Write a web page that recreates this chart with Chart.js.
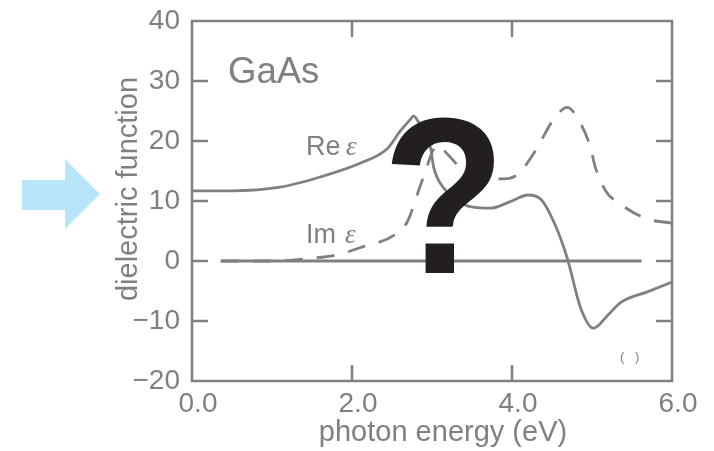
<!DOCTYPE html>
<html lang="en">
<head>
    <meta charset="UTF-8">
    <title>GaAs dielectric function</title>
    <script src="https://cdn.jsdelivr.net/npm/chart.js"></script>
    <style>
        html, body { margin: 0; padding: 0; background: #fff; }
        canvas { display: block; }
    </style>
</head>
<body>
    <canvas id="chart" width="714" height="451"></canvas>
    <script>
        // values
        const reEnergy = [0, 0.5, 1.1, 1.6, 2.1, 2.44, 2.6, 2.73, 2.77, 2.81, 2.98, 3.02, 3.15, 3.44, 3.73, 3.98, 4.2, 4.36, 4.54, 4.69, 4.86, 5.02, 5.2, 5.36, 5.7, 6];
        const reValues = [11.7, 11.7, 12.3, 14, 16.3, 18.7, 21.6, 23.6, 24.2, 23.6, 19, 15.7, 12.1, 9.2, 8.8, 9.9, 11, 10.3, 6, 0.5, -7.9, -11.2, -9, -6.9, -5.1, -3.5];
        const imEnergy = [0.36, 1, 1.44, 1.8, 2.1, 2.56, 2.69, 2.88, 3.07, 3.2, 3.36, 3.6, 3.9, 4.1, 4.2, 4.32, 4.52, 4.69, 4.81, 4.98, 5.04, 5.18, 5.32, 5.67, 6];
        const imValues = [0, 0, 0.4, 1, 2.2, 4.6, 6.5, 13.5, 19.3, 17.7, 15.5, 14, 13.7, 14.7, 16.5, 19, 23.6, 25.6, 24, 19, 15.7, 11.5, 9.8, 7.1, 6.3];
        const zeroEnergy = [0.36, 5.62];
        const zeroValues = [0, 0];
        const xTickLabels = ['0.0', '2.0', '4.0', '6.0'];
        const yTickLabels = ['\u221220', '\u221210', '0', '10', '20', '30', '40'];

        const grey = '#808080';
        const sans = '"Liberation Sans", Arial, sans-serif';

        function toPoints(xs, ys) {
            return xs.map((x, i) => ({ x: x, y: ys[i] }));
        }

        function lineSet(label, xs, ys, extra) {
            return Object.assign({
                label: label,
                data: toPoints(xs, ys),
                borderColor: grey,
                borderWidth: 2.8,
                pointRadius: 0,
                fill: false,
                cubicInterpolationMode: 'monotone'
            }, extra);
        }

        // frame, inward ticks, labels and the two overlays
        const decorations = {
            id: 'decorations',
            afterDraw(chart) {
                const c = chart.ctx;
                const a = chart.chartArea;
                const xs = chart.scales.x;
                const ys = chart.scales.y;
                c.save();

                c.strokeStyle = grey;
                c.lineWidth = 2.5;
                c.strokeRect(a.left, a.top, a.right - a.left, a.bottom - a.top);

                c.beginPath();
                xs.ticks.forEach(t => {
                    if (t.value <= xs.min || t.value >= xs.max) return;
                    const px = xs.getPixelForValue(t.value);
                    c.moveTo(px, a.top);
                    c.lineTo(px, a.top + 16);
                    c.moveTo(px, a.bottom);
                    c.lineTo(px, a.bottom - 16);
                });
                ys.ticks.forEach(t => {
                    if (t.value <= ys.min || t.value >= ys.max) return;
                    const py = ys.getPixelForValue(t.value);
                    c.moveTo(a.left, py);
                    c.lineTo(a.left + 16, py);
                    c.moveTo(a.right, py);
                    c.lineTo(a.right - 16, py);
                });
                c.stroke();

                c.fillStyle = grey;
                c.textBaseline = 'alphabetic';
                c.textAlign = 'left';
                c.font = '36.5px ' + sans;
                c.fillText('GaAs', 228, 83);
                c.font = '27px ' + sans;
                c.fillText('Re', 306, 155);
                c.fillText('Im', 306, 243);
                c.font = 'italic 27px "Liberation Serif", serif';
                c.fillText('\u03b5', 346, 155);
                c.fillText('\u03b5', 345, 243);
                c.font = '13px ' + sans;
                c.fillText('(', 620, 361);
                c.fillText(')', 635, 361);

                c.textAlign = 'center';
                c.font = '29px ' + sans;
                c.fillText('photon energy (eV)', 443, 441);
                c.save();
                c.translate(137, 189);
                c.rotate(-Math.PI / 2);
                c.fillText('dielectric function', 0, 0);
                c.restore();

                // blue arrow on the left
                c.fillStyle = '#b9e5fb';
                c.beginPath();
                c.moveTo(22, 180);
                c.lineTo(65, 180);
                c.lineTo(65, 159);
                c.lineTo(100, 194);
                c.lineTo(65, 229);
                c.lineTo(65, 210);
                c.lineTo(22, 210);
                c.closePath();
                c.fill();

                // big question mark on top of the curves
                c.fillStyle = '#231f20';
                c.font = 'bold 212px ' + sans;
                c.save();
                c.translate(444, 273);
                c.scale(0.95, 1.05);
                c.fillText('?', 0, 0);
                c.restore();

                c.restore();
            }
        };

        new Chart(document.getElementById('chart'), {
            type: 'line',
            data: {
                datasets: [
                    lineSet('zero', zeroEnergy, zeroValues, {}),
                    lineSet('Re', reEnergy, reValues, {}),
                    lineSet('Im', imEnergy, imValues, { borderDash: [18, 14] })
                ]
            },
            options: {
                responsive: false,
                animation: false,
                layout: { padding: { top: 21, right: 42 } },
                plugins: {
                    legend: { display: false },
                    tooltip: { enabled: false }
                },
                scales: {
                    x: {
                        type: 'linear',
                        min: 0,
                        max: 6,
                        afterFit: s => { s.height = 70; },
                        grid: { display: false },
                        border: { display: false },
                        ticks: {
                            stepSize: 2,
                            maxRotation: 0,
                            padding: -2,
                            labelOffset: 6,
                            color: grey,
                            font: { family: sans, size: 28 },
                            callback: (v) => xTickLabels[v / 2]
                        }
                    },
                    y: {
                        min: -20,
                        max: 40,
                        afterFit: s => { s.width = 192; },
                        grid: { display: false },
                        border: { display: false },
                        ticks: {
                            stepSize: 10,
                            padding: 4,
                            color: grey,
                            font: { family: sans, size: 28 },
                            callback: (v) => yTickLabels[(v + 20) / 10]
                        }
                    }
                }
            },
            plugins: [decorations]
        });
    </script>
</body>
</html>
